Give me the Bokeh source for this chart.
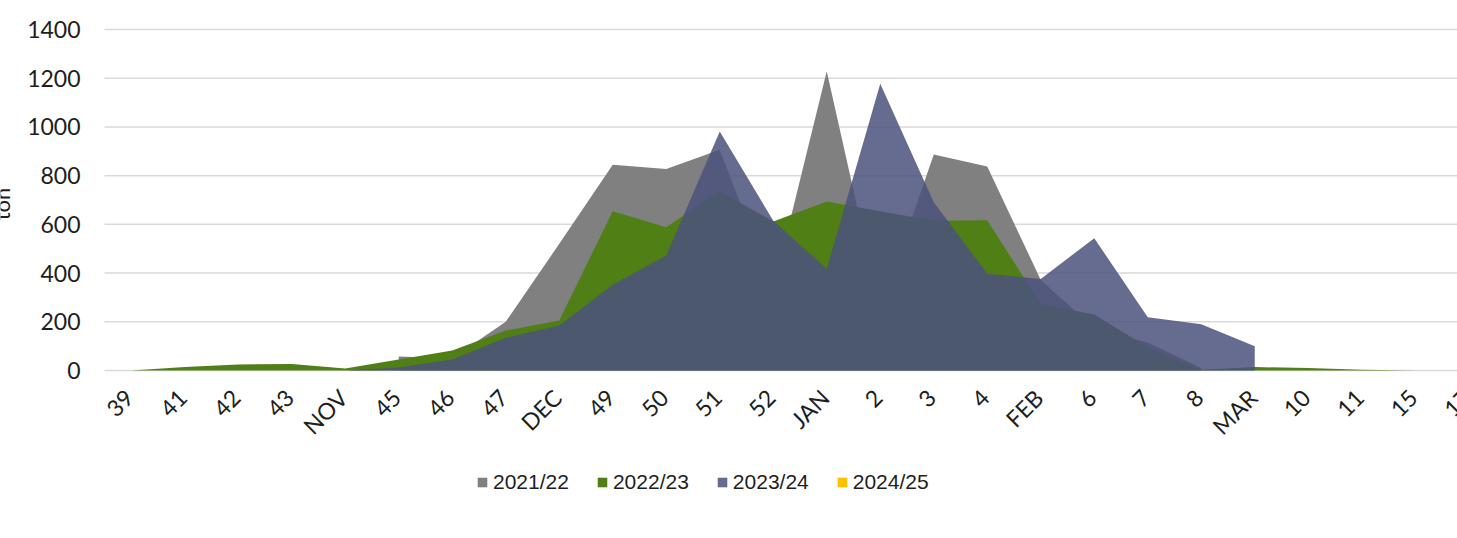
import math
from bokeh.plotting import figure
from bokeh.models import Range1d, Legend, LegendItem, ColumnDataSource
from bokeh.core.properties import value
from bokeh.embed import file_html
from bokeh.resources import INLINE

# ---- data -------------------------------------------------------------
weeks = ["39", "41", "42", "43", "NOV", "45", "46", "47", "DEC", "49", "50",
         "51", "52", "JAN", "2", "3", "4", "FEB", "6", "7", "8", "MAR", "10",
         "11", "15", "17"]

s2122 = [None, None, None, None, None, 57, 50, 200, 520, 845, 827, 906, 335,
         1229, 250, 887, 838, 372, 175, 115, 10, None, None, None, None, None]
s2223 = [0, 14, 25, 27, 8, 45, 82, 164, 205, 654, 588, 736, 612, 694, 654,
         615, 617, 272, 230, 95, 3, 14, 10, 3, 0, 0]
s2324 = [None, None, None, None, 0, 12, 45, 134, 185, 352, 472, 981, 615,
         417, 1177, 691, 397, 376, 543, 219, 190, 100, None, None, None, None]
s2425 = [None] * 26

series_names = ["2021/22", "2022/23", "2023/24", "2024/25"]
y_ticks = [0, 200, 400, 600, 800, 1000, 1200, 1400]
y_title = "ton"

# ---- layout geometry (screen pixels) ----------------------------------
W, H = 1457, 538
PLOT_L, PLOT_T, PLOT_B = 104, 29, 370      # plot area edges
CAT_PX = 53.5                               # width of one category
n = len(weeks)
Y_MAX = 1400
px_per_val = (PLOT_B - PLOT_T) / Y_MAX
x0 = -0.5 - PLOT_L / CAT_PX
x1 = -0.5 + (W - PLOT_L) / CAT_PX
y0 = -(H - PLOT_B) / px_per_val
y1 = Y_MAX + PLOT_T / px_per_val

# ---- styles -----------------------------------------------------------
colors = ["#808080", "#4F7F15", "#4B517C", "#FFC000"]
alphas = [1.0, 1.0, 0.85, 1.0]
TXT = "#1E1E1E"
TICK_FONT = value("Lato")
LEG_FONT = "Liberation Sans"

p = figure(width=W, height=H, x_range=Range1d(x0, x1),
           y_range=Range1d(y0, y1), output_backend="svg",
           toolbar_location=None, x_axis_location=None,
           y_axis_location=None, min_border=0)
p.outline_line_color = None
p.background_fill_color = "white"
p.border_fill_color = "white"
p.grid.visible = False

# horizontal gridlines
p.segment(x0=[-0.5] * len(y_ticks), x1=[n - 0.5] * len(y_ticks),
          y0=y_ticks, y1=y_ticks, line_color="#D9D9D9", line_width=1.5)

renderers = []
for vals, col, a in zip([s2122, s2223, s2324, s2425], colors, alphas):
    xs = [i for i, v in enumerate(vals) if v is not None]
    ys = [v for v in vals if v is not None]
    if not xs:                      # series without data: legend only
        xs, ys = [0], [float("nan")]
    src = ColumnDataSource(dict(x=xs, y=ys))
    r = p.varea(x="x", y1=0, y2="y", source=src, fill_color=col,
                fill_alpha=a)
    renderers.append(r)

# y tick labels
p.text(x=[-0.5] * len(y_ticks), y=y_ticks, text=[str(t) for t in y_ticks],
       x_offset=-24, text_align="right", text_baseline="middle",
       text_font=TICK_FONT, text_font_size="23px", text_color=TXT)

# x tick labels (rotated 45 degrees)
p.text(x=list(range(n)), y=[0] * n, text=weeks, angle=math.pi / 4,
       x_offset=-2, y_offset=23, text_align="right", text_baseline="middle",
       text_font=TICK_FONT, text_font_size="23px", text_color=TXT)

# y title, partly cut at the left edge as in the original
p.text(x=[-0.5], y=[Y_MAX / 2], text=[y_title], angle=math.pi / 2,
       x_offset=0.5 - PLOT_L, y_offset=4, text_align="center",
       text_baseline="alphabetic", text_font=TICK_FONT,
       text_font_size="22px", text_color=TXT)

legend = Legend(items=[LegendItem(label=nm, renderers=[r])
                       for nm, r in zip(series_names, renderers)],
                orientation="horizontal", location=(476, 44),
                glyph_width=12, glyph_height=12, label_standoff=5,
                spacing=27, padding=0, margin=0,
                border_line_color=None, background_fill_alpha=0,
                label_text_font=LEG_FONT, label_text_font_size="21px",
                label_text_color=TXT, label_height=24)
p.add_layout(legend, "center")

open("out.html", "w").write(file_html(p, INLINE))
